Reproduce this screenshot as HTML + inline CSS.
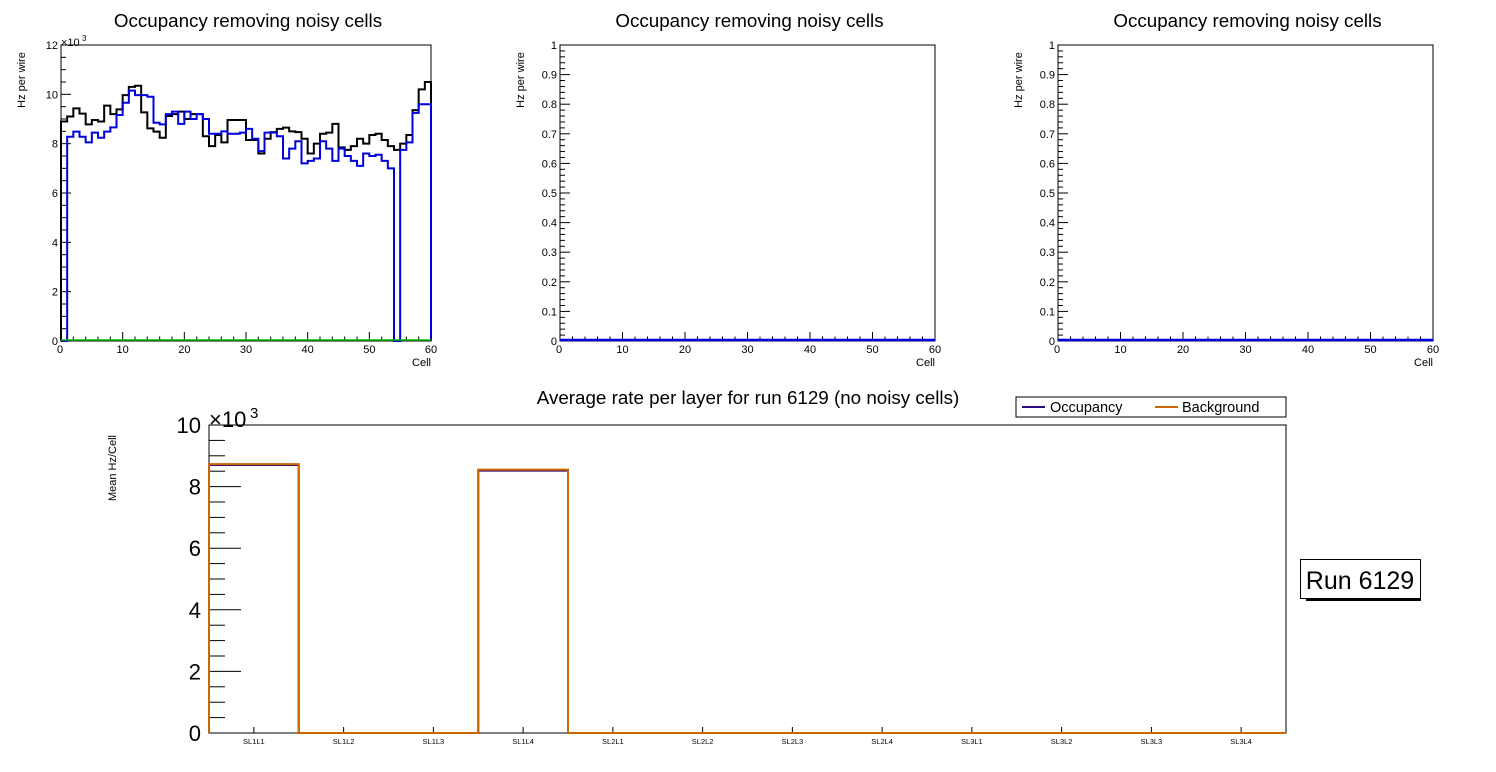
<!DOCTYPE html>
<html><head><meta charset="utf-8">
<style>
html,body{margin:0;padding:0;background:#fff;}
svg{display:block;font-family:"Liberation Sans",sans-serif;}
</style></head>
<body>
<svg id="c" width="1496" height="772" viewBox="0 0 1496 772" xmlns="http://www.w3.org/2000/svg"></svg>
<script>
// ---- data ----
const cellBlack = [8.9,9.1,9.43,9.22,8.78,8.96,8.9,9.54,9.2,9.39,9.97,10.3,10.35,9.27,8.62,8.49,8.24,9.12,9.2,9.3,9.0,9.2,9.2,8.3,7.9,8.35,8.05,8.96,8.96,8.96,8.15,8.15,7.6,8.2,8.47,8.6,8.65,8.5,8.47,8.2,7.6,8.0,8.4,8.45,8.8,7.85,7.75,7.9,8.2,8.0,8.35,8.4,8.15,7.9,7.75,8.0,8.35,9.36,10.2,10.5];
const cellBlue = [0,8.28,8.49,8.28,8.05,8.45,8.24,8.49,8.66,9.16,9.66,10.15,9.97,9.97,9.9,8.85,8.78,9.2,9.3,8.8,9.3,9.0,9.2,9.0,8.4,8.4,8.5,8.4,8.4,8.45,8.6,8.2,7.7,8.45,8.45,8.3,7.4,7.8,8.1,7.2,7.3,7.4,8.1,7.8,7.3,7.8,7.5,7.3,7.1,7.6,7.5,7.55,7.3,7.0,0,7.75,8.05,9.25,9.6,9.6];
const layerNames = ["SL1L1","SL1L2","SL1L3","SL1L4","SL2L1","SL2L2","SL2L3","SL2L4","SL3L1","SL3L2","SL3L3","SL3L4"];
const layerBackground = [8.73,0,0,8.55,0,0,0,0,0,0,0,0];
const layerOccupancy = [8.7,0,0,8.52,0,0,0,0,0,0,0,0];
const yTicksTopLeft = [0,2,4,6,8,10,12];
const yTicksUnit = [0,0.1,0.2,0.3,0.4,0.5,0.6,0.7,0.8,0.9,1];
const xTicksCell = [0,10,20,30,40,50,60];
const yTicksBottom = [0,2,4,6,8,10];

const svg = document.getElementById('c');
const NS = 'http://www.w3.org/2000/svg';
function mk(tag, attrs, parent){
  const e = document.createElementNS(NS, tag);
  for (const k in attrs) e.setAttribute(k, attrs[k]);
  (parent||svg).appendChild(e);
  return e;
}
function txt(x,y,s,size,anchor,parent,name){
  const t = mk('text',{x:x,y:y,'font-size':size,'text-anchor':anchor||'start',fill:'#000'},parent);
  t.textContent = s;
  
  
  return t;
}

function cellPad(x0,x1,y0,y1,ymax,yticks,fmt,title,ylabel,hasData,name){
  const g = mk('g',{});
  
  
  const sx = v => x0 + (x1-x0)*v/60;
  const sy = v => y0 - (y0-y1)*v/ymax;
  txt((x0+x1)/2+2, 27, title, 18.8, 'middle', g, 'pad-title');
  const yl = txt(0,0,ylabel,11,'middle',g,'y-axis-title');
  yl.setAttribute('transform','translate('+(x0-36)+',80) rotate(-90)');
  mk('rect',{x:x0,y:y1,width:x1-x0,height:y0-y1,fill:'none',stroke:'#000','stroke-width':1},g);
  for (let v=0; v<=60; v+=2){
    const major = v%10===0;
    mk('line',{x1:sx(v),x2:sx(v),y1:y0,y2:y0-(major?9:4.5),stroke:'#000'},g);
  }
  xTicksCell.forEach(v=>txt(sx(v)+(v===0?-1:0),y0+12,String(v),11,'middle',g,'x-tick-label'));
  txt(x1,y0+25,'Cell',11,'end',g,'x-axis-title');
  const step = yticks[1]-yticks[0];
  const nminor = ymax>2?4:5;
  for (let i=0;i<yticks.length;i++){
    const v=yticks[i];
    mk('line',{x1:x0,x2:x0+10,y1:sy(v),y2:sy(v),stroke:'#000'},g);
    txt(x0-3,sy(v)+4,fmt(v),11,'end',g,'y-tick-label');
    if (i<yticks.length-1) for (let k=1;k<nminor;k++){
      const m=v+step*k/nminor;
      mk('line',{x1:x0,x2:x0+5,y1:sy(m),y2:sy(m),stroke:'#000'},g);
    }
  }
  if (hasData){
    txt(x0,y1+1,'×10',11,'start',g,'y-exponent');
    txt(x0+21,y1-4,'3',8,'start',g,'y-exponent-power');
    const drawHist=(vals,color,nm)=>{
      let d='M'+sx(0)+','+sy(0);
      vals.forEach((v,i)=>{ d+=' L'+sx(i)+','+sy(v)+' L'+sx(i+1)+','+sy(v); });
      d+=' L'+sx(vals.length)+','+sy(0);
      const p=mk('path',{d:d,fill:'none',stroke:color,'stroke-width':2},g);
      
      
    };
    drawHist(cellBlack,'#000','occupancy-total-hist');
    drawHist(cellBlue,'#0000dd','occupancy-clean-hist');
    mk('line',{x1:sx(0),x2:sx(60),y1:sy(0)-1,y2:sy(0)-1,stroke:'#00bb00','stroke-width':1.5},g);
  } else {
    mk('line',{x1:sx(0),x2:sx(60),y1:sy(0)-1,y2:sy(0)-1,stroke:'#0000dd','stroke-width':2.5},g);
  }
}
cellPad(61,431,341,45,12,yTicksTopLeft,v=>String(v),'Occupancy removing noisy cells','Hz per wire',true,'pad-1');
cellPad(560,935,341,45,1,yTicksUnit,v=>String(+v.toFixed(1)),'Occupancy removing noisy cells','Hz per wire',false,'pad-2');
cellPad(1058,1433,341,45,1,yTicksUnit,v=>String(+v.toFixed(1)),'Occupancy removing noisy cells','Hz per wire',false,'pad-3');

(function(){
  const x0=209,x1=1286,y0=733,y1=425,ymax=10;
  const g = mk('g',{});
  
  
  const bw=(x1-x0)/layerNames.length;
  const sx=i=>x0+bw*i;
  const sy=v=>y0-(y0-y1)*v/ymax;
  txt(748,404,'Average rate per layer for run 6129 (no noisy cells)',18.8,'middle',g,'chart-title');
  mk('rect',{x:x0,y:y1,width:x1-x0,height:y0-y1,fill:'none',stroke:'#000'},g);
  yTicksBottom.forEach((v,i)=>{
    mk('line',{x1:x0,x2:x0+32,y1:sy(v),y2:sy(v),stroke:'#000'},g);
    txt(x0-8,sy(v)+8,String(v),22,'end',g,'y-tick-label');
    if (i<yTicksBottom.length-1) for(let k=1;k<4;k++) mk('line',{x1:x0,x2:x0+16,y1:sy(v+k*0.5),y2:sy(v+k*0.5),stroke:'#000'},g);
  });
  txt(x0,y1+2,'×10',22,'start',g,'y-exponent');
  txt(x0+41,y1-7,'3',15,'start',g,'y-exponent-power');
  const yl=txt(0,0,'Mean Hz/Cell',11,'middle',g,'y-axis-title');
  yl.setAttribute('transform','translate(116,468) rotate(-90)');
  layerNames.forEach((n,i)=>{
    mk('line',{x1:sx(i+0.5),x2:sx(i+0.5),y1:y0,y2:y0-6,stroke:'#000'},g);
    txt(sx(i+0.5),744,n,7.5,'middle',g,'x-category-label');
  });
  const hist=(vals,color,nm)=>{
    let d='M'+sx(0)+','+sy(0);
    vals.forEach((v,i)=>{ d+=' L'+sx(i)+','+sy(v)+' L'+sx(i+1)+','+sy(v); });
    d+=' L'+sx(vals.length)+','+sy(0);
    const p=mk('path',{d:d,fill:'none',stroke:color,'stroke-width':2},g);
    
    
  };
  hist(layerOccupancy,'#2a0a7a','occupancy-hist');
  hist(layerBackground,'#cc6600','background-hist');
  const lg=mk('g',{},g);
  
  
  mk('rect',{x:1016,y:397,width:270,height:20,fill:'#fff',stroke:'#000'},lg);
  mk('line',{x1:1022,x2:1045,y1:407,y2:407,stroke:'#2a0a7a','stroke-width':2},lg);
  txt(1050,412,'Occupancy',14.5,'start',lg,'legend-entry-occupancy');
  mk('line',{x1:1155,x2:1178,y1:407,y2:407,stroke:'#cc6600','stroke-width':2},lg);
  txt(1182,412,'Background',14.5,'start',lg,'legend-entry-background');
  const rb=mk('g',{},g);
  
  
  mk('rect',{x:1306,y:597,width:115,height:4,fill:'#000'},rb);
  mk('rect',{x:1300.5,y:559.5,width:120,height:39,fill:'#fff',stroke:'#000'},rb);
  txt(1360,589,'Run 6129',25,'middle',rb,'run-label');
})();
</script>
</body></html>
